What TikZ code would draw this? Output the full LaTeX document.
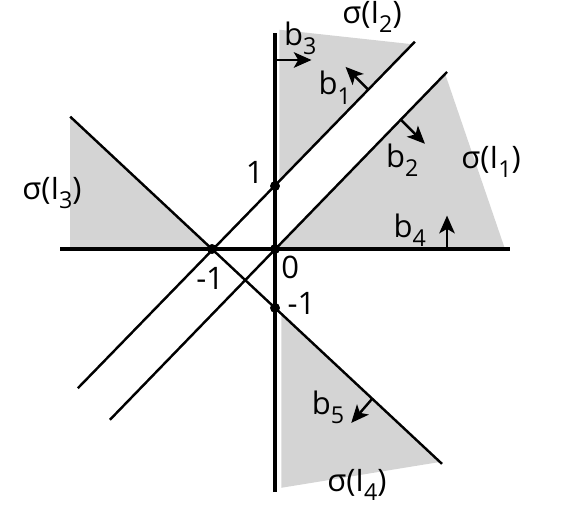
\documentclass[tikz,border=0pt]{standalone}
\usepackage{fontspec}
\setmainfont{Open Sans}
\usetikzlibrary{arrows.meta}
\newcommand\lowsub[1]{\raisebox{-0.55ex}{\fontsize{10.5}{12}\selectfont #1}}
\begin{document}
\begin{tikzpicture}[
  region/.style={fill=black!17},
  axis/.style={line width=1.6pt},
  bline/.style={line width=1.1pt},
  vec/.style={line width=1.1pt,-{Stealth[length=8pt,width=7pt,inset=2pt]}},
  lbl/.style={font=\fontsize{14}{16}\selectfont,inner sep=1pt},
  dot/.style={circle,fill,inner sep=0pt,minimum size=4.5pt}
]
\useasboundingbox (-4.365,-4.111) rectangle (4.571,3.952);
% 阴影区域
\fill[region] (0,0) -- (2.70,2.78) -- (3.65,0) -- cycle;
\fill[region] (0.07,1.07) -- (0.07,3.48) -- (2.18,3.25) -- cycle;
\fill[region] (-1,0) -- (-3.25,2.10) -- (-3.25,0) -- cycle;
\fill[region] (0.1,-1.03) -- (0.1,-3.79) -- (2.62,-3.38) -- cycle;
% 三条直线
\draw[bline] (-3.13,-2.21) -- (2.22,3.29);
\draw[bline] (-2.62,-2.71) -- (2.73,2.81);
\draw[bline] (-3.25,2.10) -- (2.65,-3.41);
% 坐标轴
\draw[axis] (-3.41,0) -- (3.73,0);
\draw[axis] (0,-3.86) -- (0,3.43);
% 交点
\node[dot] (O) at (0,0) {};
\node[dot] (P) at (0,1) {};
\node[dot] (Q) at (-1,0) {};
\node[dot] (R) at (0,-0.935) {};
% 法向量
\draw[vec] (1.48,2.53) -- (1.12,2.89);
\draw[vec] (2,2.05) -- (2.38,1.67);
\draw[vec] (0,3) -- (0.58,3);
\draw[vec] (2.73,0) -- (2.73,0.53);
\draw[vec] (1.54,-2.38) -- (1.21,-2.76);
% 标记
\node[lbl] (b1) at (0.95,2.56) {b\lowsub{1}};
\node[lbl] (b2) at (2.02,1.41) {b\lowsub{2}};
\node[lbl] (b3) at (0.40,3.35) {b\lowsub{3}};
\node[lbl] (b4) at (2.14,0.30) {b\lowsub{4}};
\node[lbl] (b5) at (0.84,-2.51) {b\lowsub{5}};
\node[lbl] (s1) at (3.43,1.38) {σ(I\lowsub{1})};
\node[lbl] (s2) at (1.54,3.68) {σ(I\lowsub{2})};
\node[lbl] (s3) at (-3.54,0.89) {σ(I\lowsub{3})};
\node[lbl] (s4) at (1.30,-3.75) {σ(I\lowsub{4})};
\node[lbl] (one) at (-0.32,1.21) {1};
\node[lbl] (zero) at (0.24,-0.29) {0};
\node[lbl] (mx) at (-1.03,-0.46) {-1};
\node[lbl] (my) at (0.42,-0.86) {-1};
\end{tikzpicture}
\end{document}
